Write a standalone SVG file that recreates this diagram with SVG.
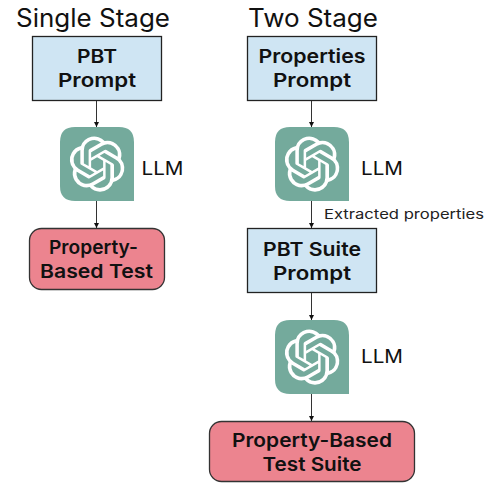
<svg xmlns="http://www.w3.org/2000/svg" width="489" height="483" viewBox="0 0 489 483">
<style>
text{font-family:"Inter","Open Sans","Liberation Sans",sans-serif;fill:#111;text-anchor:middle}
.h{font-size:25px;font-weight:400}
.b{font-size:19px;font-weight:600}
.l{font-size:19px;font-weight:400}
.s{font-size:13.500px;font-weight:400;fill:#222}
.blue{fill:#cfe5f3;stroke:#222;stroke-width:1.3}
.red{fill:#ec848f;stroke:#333;stroke-width:1.3}
.tile{fill:#74aa9c}
.knot{fill:#fff}
.c{stroke:#333;stroke-width:1;fill:none;marker-end:url(#a)}
</style>
<defs>
<marker id="a" markerWidth="6" markerHeight="6" refX="5" refY="2.5" orient="auto" markerUnits="userSpaceOnUse"><path d="M0 0L5 2.5L0 5z" fill="#111"/></marker>
<g id="logo">
<path class="tile" d="M15 0H59Q74 0 74 15V74H15Q0 74 0 59V15Q0 0 15 0z"/>
<path class="knot" transform="translate(9.500 9.500) scale(2.3)" d="M22.2819 9.8211a5.9847 5.9847 0 0 0-.5157-4.9108 6.0462 6.0462 0 0 0-6.5098-2.9A6.0651 6.0651 0 0 0 4.9807 4.1818a5.9847 5.9847 0 0 0-3.9977 2.9 6.0462 6.0462 0 0 0 .7427 7.0966 5.98 5.98 0 0 0 .511 4.9107 6.051 6.051 0 0 0 6.5146 2.9001A5.9847 5.9847 0 0 0 13.2599 24a6.0557 6.0557 0 0 0 5.7718-4.2058 5.9894 5.9894 0 0 0 3.9977-2.9001 6.0557 6.0557 0 0 0-.7475-7.0729zm-9.022 12.6081a4.4755 4.4755 0 0 1-2.8764-1.0408l.1419-.0804 4.7783-2.7582a.7948.7948 0 0 0 .3927-.6813v-6.7369l2.02 1.1686a.071.071 0 0 1 .038.052v5.5826a4.504 4.504 0 0 1-4.4945 4.4944zm-9.6607-4.1254a4.4708 4.4708 0 0 1-.5346-3.0137l.142.0852 4.783 2.7582a.7712.7712 0 0 0 .7806 0l5.8428-3.3685v2.3324a.0804.0804 0 0 1-.0332.0615L9.74 19.9502a4.4992 4.4992 0 0 1-6.1408-1.6464zM2.3408 7.8956a4.485 4.485 0 0 1 2.3655-1.9728V11.6a.7664.7664 0 0 0 .3879.6765l5.8144 3.3543-2.0201 1.1685a.0757.0757 0 0 1-.071 0l-4.8303-2.7865A4.504 4.504 0 0 1 2.3408 7.872zm16.5963 3.8558L13.1038 8.364 15.1192 7.2a.0757.0757 0 0 1 .071 0l4.8303 2.7913a4.4944 4.4944 0 0 1-.6765 8.1042v-5.6772a.79.79 0 0 0-.407-.667zm2.0107-3.0231l-.142-.0852-4.7735-2.7818a.7759.7759 0 0 0-.7854 0L9.409 9.2297V6.8974a.0662.0662 0 0 1 .0284-.0615l4.8303-2.7866a4.4992 4.4992 0 0 1 6.6802 4.66zM8.3065 12.863l-2.02-1.1638a.0804.0804 0 0 1-.038-.0567V6.0742a4.4992 4.4992 0 0 1 7.3757-3.4537l-.142.0805L8.704 5.459a.7948.7948 0 0 0-.3927.6813zm1.0976-2.3654l2.602-1.4998 2.6069 1.4998v2.9994l-2.5974 1.4997-2.6067-1.4997Z"/>
</g>
</defs>
<g id="title-single"><text class="h" x="93" y="27" textLength="154" lengthAdjust="spacingAndGlyphs">Single Stage</text></g>
<g id="title-two"><text class="h" x="313" y="27" textLength="130" lengthAdjust="spacingAndGlyphs">Two Stage</text></g>
<g id="connectors">
<path class="c" d="M96.500 100V127"/>
<path class="c" d="M96.500 201V228"/>
<path class="c" d="M311.500 100V127"/>
<path class="c" d="M311.500 201V228"/>
<path class="c" d="M311.500 292V320"/>
<path class="c" d="M311.500 394V421"/>
</g>
<g id="n-pbt-prompt"><rect class="blue" x="32.500" y="36.500" width="129" height="64"/><text class="b" x="97" y="63" textLength="40" lengthAdjust="spacingAndGlyphs">PBT</text><text class="b" x="97" y="87" textLength="78" lengthAdjust="spacingAndGlyphs">Prompt</text></g>
<g id="n-llm1"><use href="#logo" x="60" y="127"/><text class="l" x="162.500" y="175" textLength="42" lengthAdjust="spacingAndGlyphs">LLM</text></g>
<g id="n-test"><rect class="red" x="29.500" y="228.500" width="135" height="61" rx="12"/><text class="b" x="93.500" y="254" textLength="89" lengthAdjust="spacingAndGlyphs">Property-</text><text class="b" x="96.500" y="278" textLength="113" lengthAdjust="spacingAndGlyphs">Based Test</text></g>
<g id="n-props-prompt"><rect class="blue" x="247.500" y="36.500" width="129" height="64"/><text class="b" x="312" y="63" textLength="107" lengthAdjust="spacingAndGlyphs">Properties</text><text class="b" x="312" y="87" textLength="78" lengthAdjust="spacingAndGlyphs">Prompt</text></g>
<g id="n-llm2"><use href="#logo" x="275" y="127"/><text class="l" x="382" y="175" textLength="42" lengthAdjust="spacingAndGlyphs">LLM</text></g>
<g id="label-extracted"><text class="s" x="404" y="219" textLength="160" lengthAdjust="spacingAndGlyphs">Extracted properties</text></g>
<g id="n-suite-prompt"><rect class="blue" x="247.500" y="228.500" width="129" height="64"/><text class="b" x="312" y="256" textLength="98" lengthAdjust="spacingAndGlyphs">PBT Suite</text><text class="b" x="312" y="280" textLength="78" lengthAdjust="spacingAndGlyphs">Prompt</text></g>
<g id="n-llm3"><use href="#logo" x="275" y="320"/><text class="l" x="382" y="363" textLength="42" lengthAdjust="spacingAndGlyphs">LLM</text></g>
<g id="n-suite"><rect class="red" x="209.500" y="421.500" width="205" height="60" rx="12"/><text class="b" x="312" y="447" textLength="160" lengthAdjust="spacingAndGlyphs">Property-Based</text><text class="b" x="312" y="471" textLength="99" lengthAdjust="spacingAndGlyphs">Test Suite</text></g>
</svg>
